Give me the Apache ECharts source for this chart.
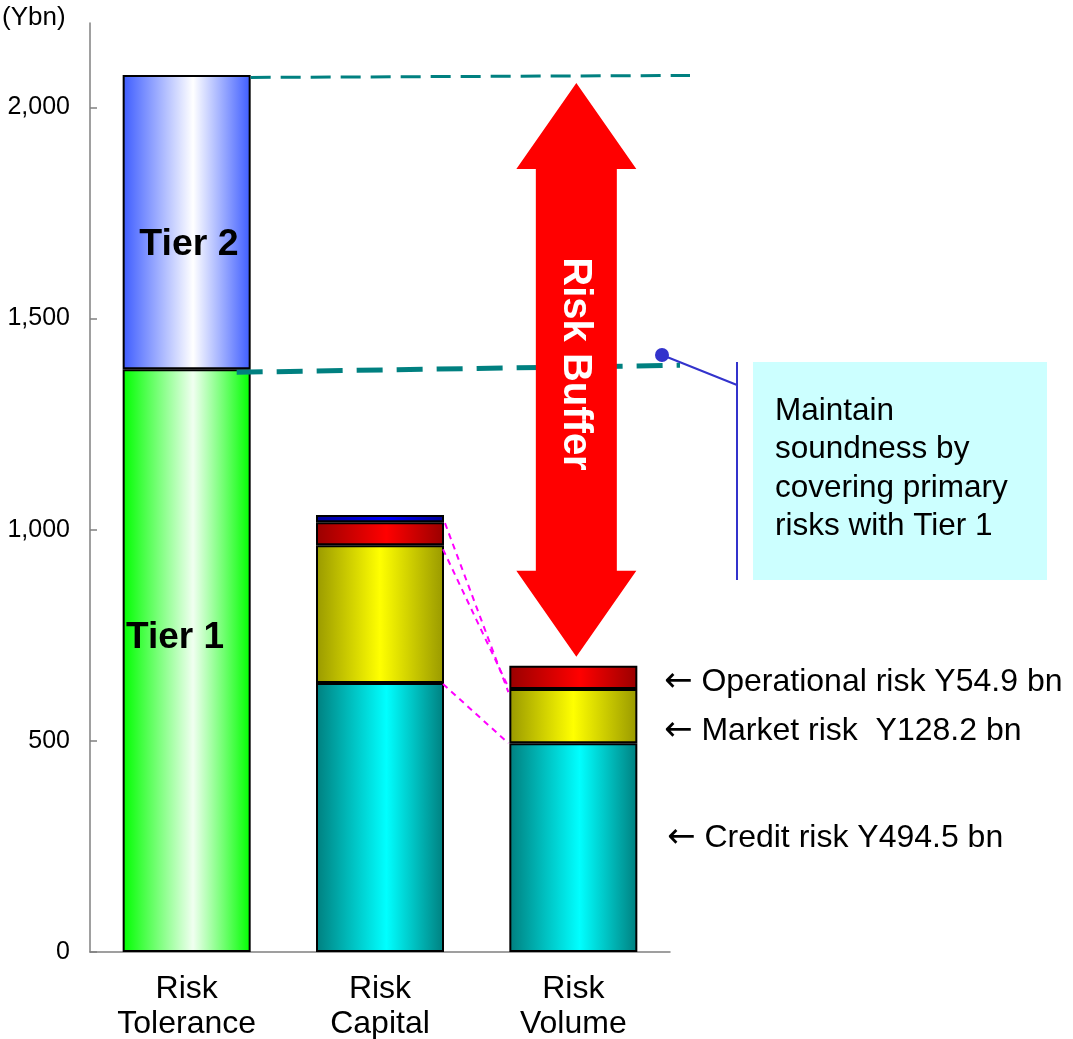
<!DOCTYPE html>
<html>
<head>
<meta charset="utf-8">
<script src="https://cdn.jsdelivr.net/npm/echarts@6/dist/echarts.min.js"></script>
<style>
  html, body { margin: 0; padding: 0; background: #ffffff; }
  #main { width: 1073px; height: 1039px; }
</style>
</head>
<body>
<div id="main"></div>
<script>
// Capital adequacy: risk tolerance vs. risk capital vs. risk volume (Ybn)
const categories = ['Risk\nTolerance', 'Risk\nCapital', 'Risk\nVolume'];
const tier1 = [1380, '-', '-'];
const tier2 = [697, '-', '-'];
const creditRisk = ['-', 637, 494.5];
const marketRisk = ['-', 326, 128.2];
const operationalRisk = ['-', 55, 54.9];
const otherRisk = ['-', 17, '-'];
const yTicks = [0, 500, 1000, 1500, 2000];
const riskLabels = ['Operational risk Y54.9 bn', 'Market risk  Y128.2 bn', 'Credit risk Y494.5 bn'];
const calloutText = 'Maintain\nsoundness by\ncovering primary\nrisks with Tier 1';

const FONT = '"Liberation Sans", Arial, "DejaVu Sans", sans-serif';

function shade(edge, mid, pos) {
  return new echarts.graphic.LinearGradient(0, 0, 1, 0, [
    { offset: 0, color: edge },
    { offset: pos, color: mid },
    { offset: 1, color: edge }
  ]);
}

function barSeries(name, data, color) {
  return {
    name: name,
    type: 'bar',
    stack: 'total',
    barWidth: 128,
    data: data,
    itemStyle: { color: color, borderColor: '#000000', borderWidth: 2 },
    emphasis: { disabled: true },
    silent: true
  };
}

const chart = echarts.init(document.getElementById('main'), null, { renderer: 'canvas' });

chart.setOption({
  animation: false,
  backgroundColor: '#ffffff',
  textStyle: { fontFamily: FONT },
  grid: { left: 90, right: 403, top: 23, bottom: 87, outerBoundsMode: 'none' },
  xAxis: {
    type: 'category',
    data: categories,
    axisLine: { lineStyle: { color: '#808080', width: 1.5 } },
    axisTick: { inside: true, length: 7, alignWithLabel: false, lineStyle: { color: '#808080', width: 1.5 } },
    axisLabel: { fontSize: 32, lineHeight: 35, color: '#000000', margin: 20, fontFamily: FONT }
  },
  yAxis: {
    type: 'value',
    min: 0,
    max: 2200,
    interval: 500,
    splitLine: { show: false },
    axisLine: { show: true, lineStyle: { color: '#808080', width: 1.5 } },
    axisTick: { show: true, inside: true, length: 7, customValues: yTicks, lineStyle: { color: '#808080', width: 1.5 } },
    axisLabel: {
      customValues: yTicks,
      fontSize: 25,
      color: '#000000',
      margin: 20,
      fontFamily: FONT,
      formatter: function (v) { return v.toLocaleString('en-US'); }
    }
  },
  series: [
    barSeries('Tier 1', tier1, shade('#00ff00', '#f0fff0', 0.55)),
    barSeries('Tier 2', tier2, shade('#3d5cff', '#ffffff', 0.55)),
    barSeries('Credit risk', creditRisk, shade('#007f7f', '#00ffff', 0.55)),
    barSeries('Market risk', marketRisk, shade('#999900', '#ffff00', 0.5)),
    barSeries('Operational risk', operationalRisk, shade('#990000', '#ff0000', 0.55)),
    barSeries('Other', otherRisk, shade('#000099', '#0000ff', 0.55))
  ]
});

// Annotation layer, positioned from the axes' own scales
const P = (i, v) => chart.convertToPixel({ gridIndex: 0 }, [i, v]);
const half = 64;
const xTol = P(0, 0)[0], xCap = P(1, 0)[0], xVol = P(2, 0)[0];
const tolTop = tier1[0] + tier2[0];
const volTop = creditRisk[2] + marketRisk[2] + operationalRisk[2];
const volMid = creditRisk[2] + marketRisk[2];
const capCredit = creditRisk[1];
const capMarketTop = creditRisk[1] + marketRisk[1];
const capOpTop = capMarketTop + operationalRisk[1];
const yT2 = P(0, tolTop)[1];
const yT1 = P(0, tier1[0])[1];

// double-headed arrow spanning the buffer between tolerance and volume
const ax = xVol + 3;
const aTop = yT2 + 8;
const aBot = P(2, volTop)[1] - 9;
const headH = 86, headW = 60, shaftW = 40.5;
const arrowPts = [
  [ax, aTop], [ax + headW, aTop + headH], [ax + shaftW, aTop + headH],
  [ax + shaftW, aBot - headH], [ax + headW, aBot - headH], [ax, aBot],
  [ax - headW, aBot - headH], [ax - shaftW, aBot - headH],
  [ax - shaftW, aTop + headH], [ax - headW, aTop + headH]
];

const magenta = { stroke: '#ff00ff', lineWidth: 2, lineDash: [6, 5] };
const teal = '#008080';

function riskLabel(x, y, text) {
  return {
    type: 'text', z: 9, x: x, y: y,
    style: {
      text: '{a|\u2190} ' + text,
      fill: '#000000', fontSize: 32, fontFamily: FONT, verticalAlign: 'middle',
      rich: { a: { fontFamily: '"DejaVu Sans", sans-serif', fontSize: 34, fill: '#000000' } }
    }
  };
}

chart.setOption({
  graphic: [
    { type: 'text', left: 2, top: 5, style: { text: '(Ybn)', fontSize: 26, fill: '#000000', fontFamily: FONT } },
    { type: 'text', x: 189, y: 245, z: 10, style: { text: 'Tier 2', fontSize: 37.5, fontWeight: 'bold', fill: '#000000', fontFamily: FONT, align: 'center', verticalAlign: 'middle' } },
    { type: 'text', x: 175, y: 638, z: 10, style: { text: 'Tier 1', fontSize: 37, fontWeight: 'bold', fill: '#000000', fontFamily: FONT, align: 'center', verticalAlign: 'middle' } },
    // tier reference lines
    { type: 'line', z: 5, shape: { x1: xTol + half, y1: yT2 + 2.5, x2: 690, y2: yT2 + 0.5 }, style: { stroke: teal, lineWidth: 3, lineDash: [20, 10] } },
    { type: 'line', z: 5, shape: { x1: xTol + 50, y1: yT1 + 3, x2: 680, y2: yT1 - 4 }, style: { stroke: teal, lineWidth: 5, lineDash: [26, 14] } },
    // risk buffer arrow
    { type: 'polygon', z: 6, shape: { points: arrowPts }, style: { fill: '#ff0000' } },
    { type: 'text', z: 7, x: ax - 1, y: 364, rotation: -Math.PI / 2, style: { text: 'Risk Buffer', fontSize: 40, fontWeight: 'bold', fill: '#ffffff', fontFamily: FONT, align: 'center', verticalAlign: 'middle' } },
    // links between capital and volume components
    { type: 'line', z: 5, shape: { x1: xCap + half + 1, y1: P(1, capOpTop)[1] + 1, x2: xVol - half - 1, y2: P(2, volMid)[1] + 3 }, style: magenta },
    { type: 'line', z: 5, shape: { x1: xCap + half - 1, y1: P(1, capMarketTop)[1] + 4, x2: xVol - half - 2, y2: P(2, volMid)[1] - 4 }, style: magenta },
    { type: 'line', z: 5, shape: { x1: xCap + half - 1, y1: P(1, capCredit)[1] + 1, x2: xVol - half - 1, y2: P(2, creditRisk[2])[1] }, style: magenta },
    // callout
    { type: 'line', z: 8, shape: { x1: 662, y1: 355, x2: 737, y2: 385 }, style: { stroke: '#3333cc', lineWidth: 2 } },
    { type: 'line', z: 8, shape: { x1: 737, y1: 362, x2: 737, y2: 580 }, style: { stroke: '#3333cc', lineWidth: 2 } },
    { type: 'circle', z: 9, shape: { cx: 662, cy: 355, r: 7 }, style: { fill: '#3333cc' } },
    { type: 'rect', z: 4, shape: { x: 753, y: 362, width: 294, height: 218 }, style: { fill: '#ccffff' } },
    { type: 'text', z: 9, x: 775, y: 392, style: { text: calloutText, fontSize: 31.5, lineHeight: 38.5, fill: '#000000', fontFamily: FONT } },
    // component labels
    riskLabel(664, 682, riskLabels[0]),
    riskLabel(664, 731, riskLabels[1]),
    riskLabel(667, 838, riskLabels[2])
  ]
});
</script>
</body>
</html>
